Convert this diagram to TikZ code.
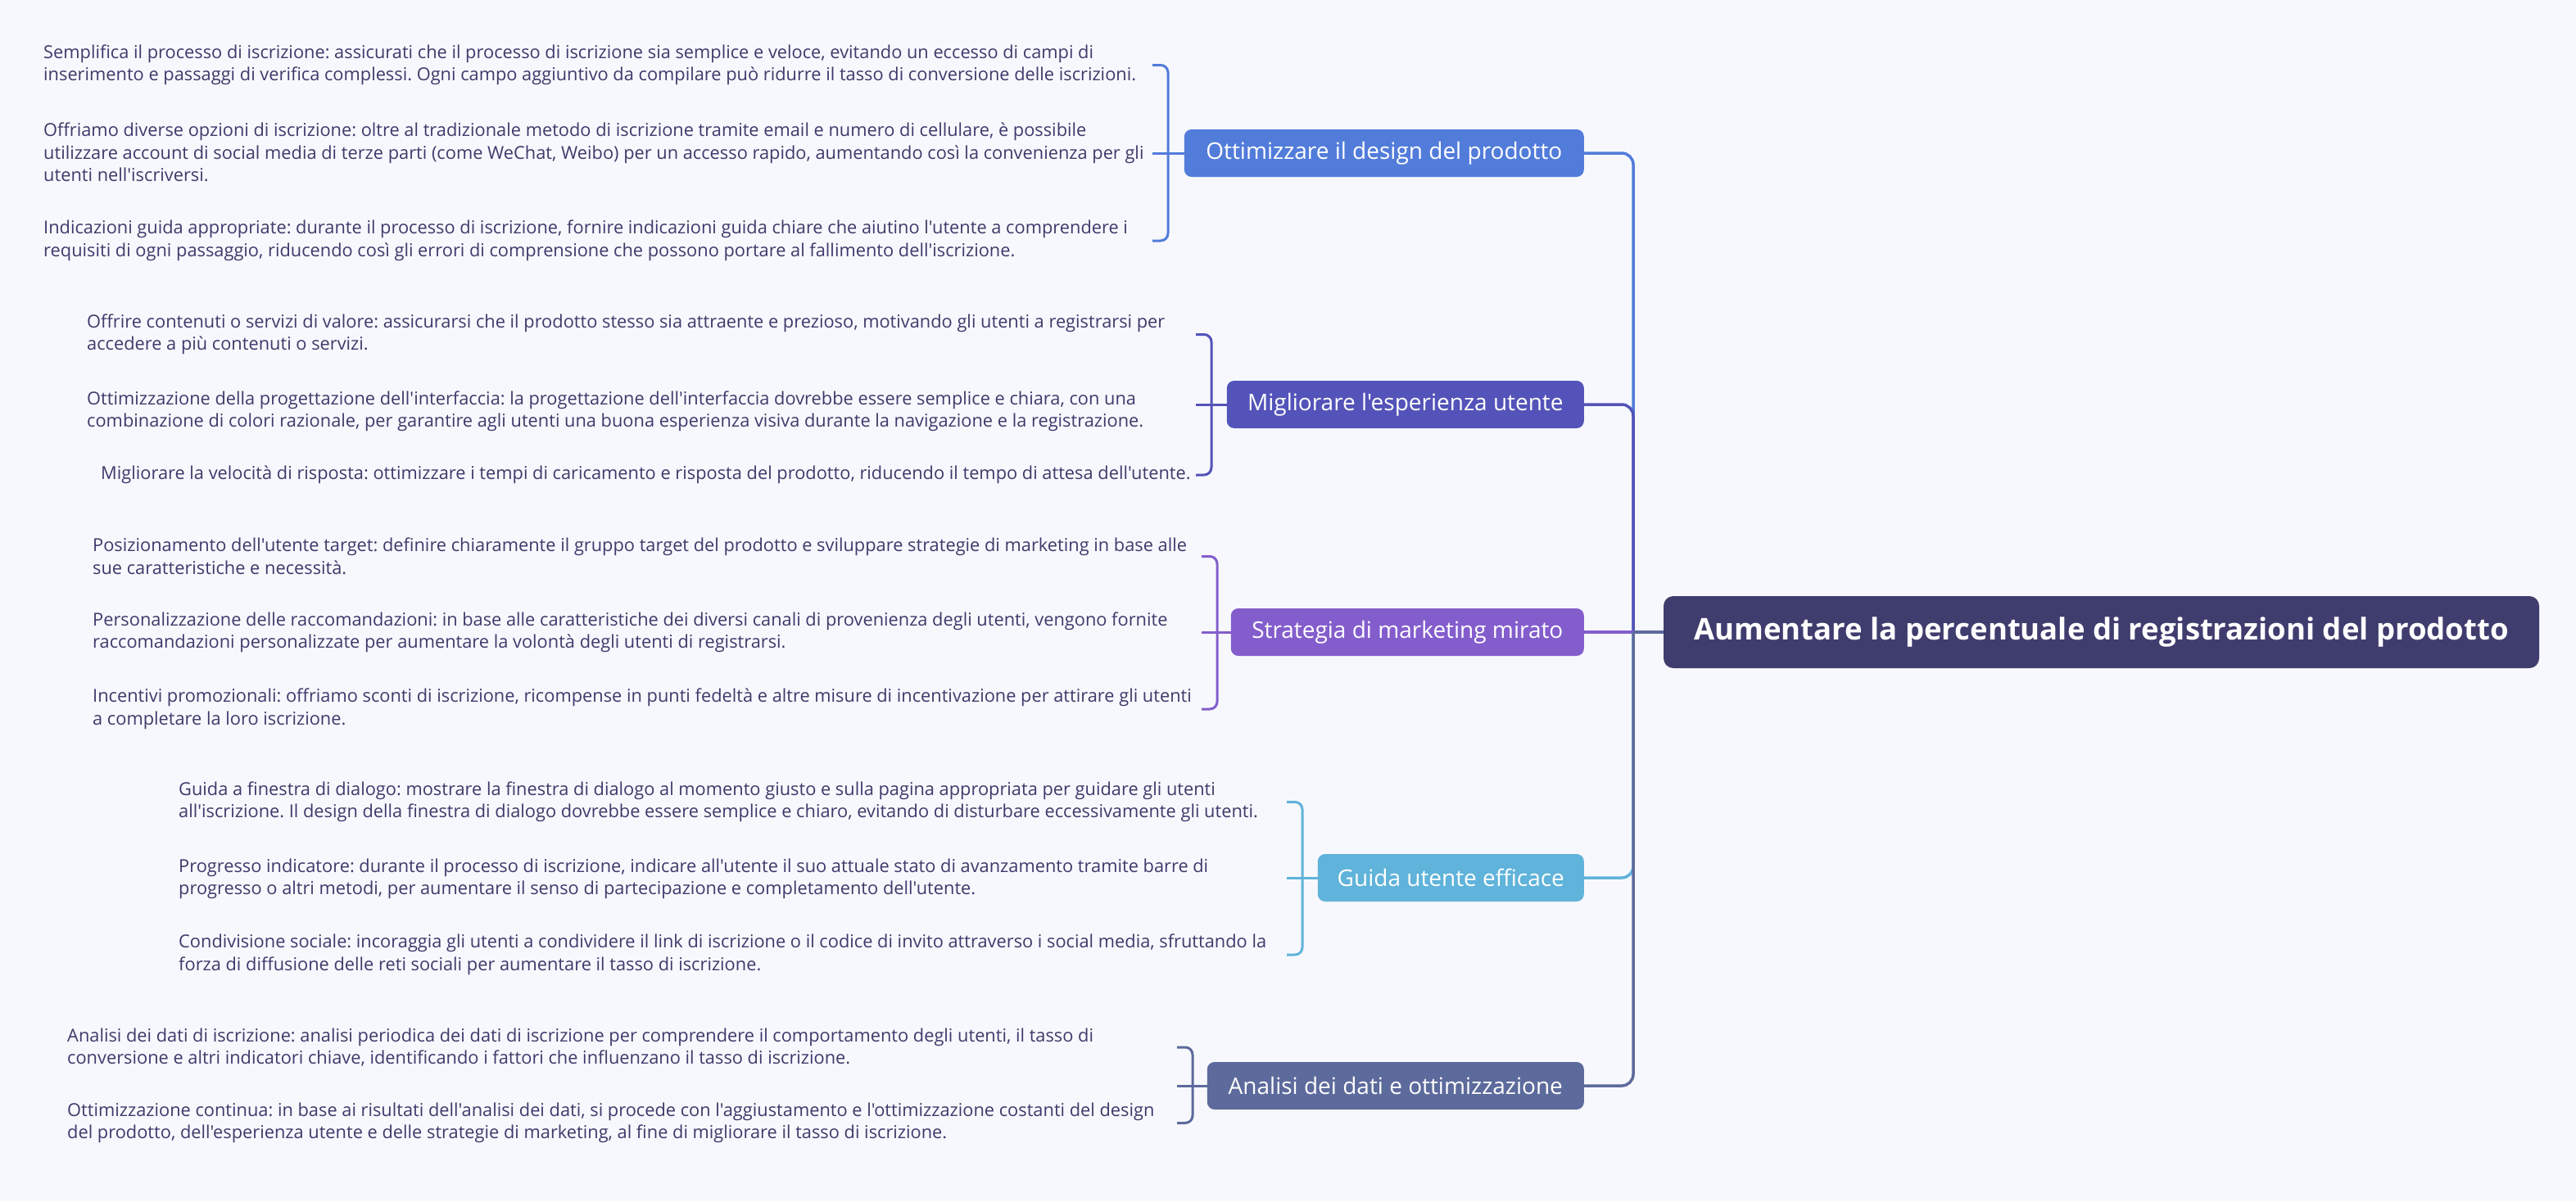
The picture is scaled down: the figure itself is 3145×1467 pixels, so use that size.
\documentclass[tikz,border=0pt]{standalone}
\usepackage{fontspec}
\newfontfamily\bodyfont{Open Sans}
\frenchspacing
\definecolor{bg}{HTML}{F7F8FD}
\definecolor{txt}{HTML}{3C3B6B}
\definecolor{croot}{HTML}{3F3D6E}
\definecolor{cA}{HTML}{527CDA}
\definecolor{cB}{HTML}{5353B9}
\definecolor{cC}{HTML}{835DCC}
\definecolor{cD}{HTML}{60B3DA}
\definecolor{cE}{HTML}{5D6A9C}
\begin{document}
\begin{tikzpicture}[x=1pt,y=-1pt,
  leaf/.style={anchor=west, align=left, inner sep=0pt, text=txt, font=\bodyfont\frenchspacing\fontsize{21.8}{27.5}\selectfont},
  branch/.style={anchor=east, rounded corners=9pt, minimum height=58pt, inner sep=0pt, text=white, font=\bodyfont\fontsize{28}{32}\selectfont},
  rootbox/.style={rounded corners=12pt, minimum height=88pt, minimum width=1069pt, inner sep=0pt, fill=croot, text=white, font=\bodyfont\bfseries\fontsize{36.5}{40}\selectfont},
  conn/.style={line width=3.5pt, rounded corners=14pt},
  brace/.style={line width=3pt, rounded corners=9pt}]
\useasboundingbox[fill=bg] (0,0) rectangle (3145,1467);

% root
\node[rootbox] (root) at (2565.5,772) {Aumentare la percentuale di registrazioni del prodotto};

% branches
\node[branch, fill=cA, minimum width=488pt] (b1) at (1934,187) {Ottimizzare il design del prodotto};
\node[branch, fill=cB, minimum width=436pt] (b2) at (1934,494) {Migliorare l'esperienza utente};
\node[branch, fill=cC, minimum width=431pt] (b3) at (1934,772) {Strategia di marketing mirato};
\node[branch, fill=cD, minimum width=325pt] (b4) at (1934,1072) {Guida utente efficace};
\node[branch, fill=cE, minimum width=460pt] (b5) at (1934,1326) {Analisi dei dati e ottimizzazione};

% leaves
\node[leaf] (t1a) at (53,79.5) {Semplifica il processo di iscrizione: assicurati che il processo di iscrizione sia semplice e veloce, evitando un eccesso di campi di\\inserimento e passaggi di verifica complessi. Ogni campo aggiuntivo da compilare può ridurre il tasso di conversione delle iscrizioni.};
\node[leaf] (t1b) at (53,186) {Offriamo diverse opzioni di iscrizione: oltre al tradizionale metodo di iscrizione tramite email e numero di cellulare, è possibile\\utilizzare account di social media di terze parti (come WeChat, Weibo) per un accesso rapido, aumentando così la convenienza per gli\\utenti nell'iscriversi.};
\node[leaf] (t1c) at (53,294) {Indicazioni guida appropriate: durante il processo di iscrizione, fornire indicazioni guida chiare che aiutino l'utente a comprendere i\\requisiti di ogni passaggio, riducendo così gli errori di comprensione che possono portare al fallimento dell'iscrizione.};

\node[leaf] (t2a) at (106,408.5) {Offrire contenuti o servizi di valore: assicurarsi che il prodotto stesso sia attraente e prezioso, motivando gli utenti a registrarsi per\\accedere a più contenuti o servizi.};
\node[leaf] (t2b) at (106,502.5) {Ottimizzazione della progettazione dell'interfaccia: la progettazione dell'interfaccia dovrebbe essere semplice e chiara, con una\\combinazione di colori razionale, per garantire agli utenti una buona esperienza visiva durante la navigazione e la registrazione.};
\node[leaf] (t2c) at (123,580) {Migliorare la velocità di risposta: ottimizzare i tempi di caricamento e risposta del prodotto, riducendo il tempo di attesa dell'utente.};

\node[leaf] (t3a) at (113,679.5) {Posizionamento dell'utente target: definire chiaramente il gruppo target del prodotto e sviluppare strategie di marketing in base alle\\sue caratteristiche e necessità.};
\node[leaf] (t3b) at (113,772.5) {Personalizzazione delle raccomandazioni: in base alle caratteristiche dei diversi canali di provenienza degli utenti, vengono fornite\\raccomandazioni personalizzate per aumentare la volontà degli utenti di registrarsi.};
\node[leaf] (t3c) at (113,866) {Incentivi promozionali: offriamo sconti di iscrizione, ricompense in punti fedeltà e altre misure di incentivazione per attirare gli utenti\\a completare la loro iscrizione.};

\node[leaf] (t4a) at (218,979.5) {Guida a finestra di dialogo: mostrare la finestra di dialogo al momento giusto e sulla pagina appropriata per guidare gli utenti\\all'iscrizione. Il design della finestra di dialogo dovrebbe essere semplice e chiaro, evitando di disturbare eccessivamente gli utenti.};
\node[leaf] (t4b) at (218,1073.5) {Progresso indicatore: durante il processo di iscrizione, indicare all'utente il suo attuale stato di avanzamento tramite barre di\\progresso o altri metodi, per aumentare il senso di partecipazione e completamento dell'utente.};
\node[leaf] (t4c) at (218,1166) {Condivisione sociale: incoraggia gli utenti a condividere il link di iscrizione o il codice di invito attraverso i social media, sfruttando la\\forza di diffusione delle reti sociali per aumentare il tasso di iscrizione.};

\node[leaf] (t5a) at (82,1279) {Analisi dei dati di iscrizione: analisi periodica dei dati di iscrizione per comprendere il comportamento degli utenti, il tasso di\\conversione e altri indicatori chiave, identificando i fattori che influenzano il tasso di iscrizione.};
\node[leaf] (t5b) at (82,1371.5) {Ottimizzazione continua: in base ai risultati dell'analisi dei dati, si procede con l'aggiustamento e l'ottimizzazione costanti del design\\del prodotto, dell'esperienza utente e delle strategie di marketing, al fine di migliorare il tasso di iscrizione.};

% trunk connectors
\coordinate (j) at (1994,772);
\draw[conn, cA] (j) -- (j |- b1.east) -- (b1.east);
\draw[conn, cB] (j) -- (j |- b2.east) -- (b2.east);
\draw[conn, cC] (b3.east) -- (root.west);
\draw[conn, cD] (j) -- (j |- b4.east) -- (b4.east);
\draw[conn, cE] (j) -- (j |- b5.east) -- (b5.east);
\draw[conn, cE] (j) -- (root.west);

% brackets
\coordinate (g1t) at (1407,79.5); \coordinate (g1b) at (1407,294); \coordinate (g1m) at (1407,187);
\draw[brace, cA] (g1t) -- (1426,79.5) -- (1426,294) -- (g1b);
\draw[brace, cA] (g1m) -- (b1.west);

\coordinate (g2t) at (1460,408.5); \coordinate (g2b) at (1460,580); \coordinate (g2m) at (1460,494);
\draw[brace, cB] (g2t) -- (1479,408.5) -- (1479,580) -- (g2b);
\draw[brace, cB] (g2m) -- (b2.west);

\coordinate (g3t) at (1467,679.5); \coordinate (g3b) at (1467,866); \coordinate (g3m) at (1467,772);
\draw[brace, cC] (g3t) -- (1486,679.5) -- (1486,866) -- (g3b);
\draw[brace, cC] (g3m) -- (b3.west);

\coordinate (g4t) at (1571,979.5); \coordinate (g4b) at (1571,1166); \coordinate (g4m) at (1571,1072);
\draw[brace, cD] (g4t) -- (1590,979.5) -- (1590,1166) -- (g4b);
\draw[brace, cD] (g4m) -- (b4.west);

\coordinate (g5t) at (1437,1279); \coordinate (g5b) at (1437,1371.5); \coordinate (g5m) at (1437,1326);
\draw[brace, cE] (g5t) -- (1456,1279) -- (1456,1371.5) -- (g5b);
\draw[brace, cE] (g5m) -- (b5.west);
\end{tikzpicture}
\end{document}
